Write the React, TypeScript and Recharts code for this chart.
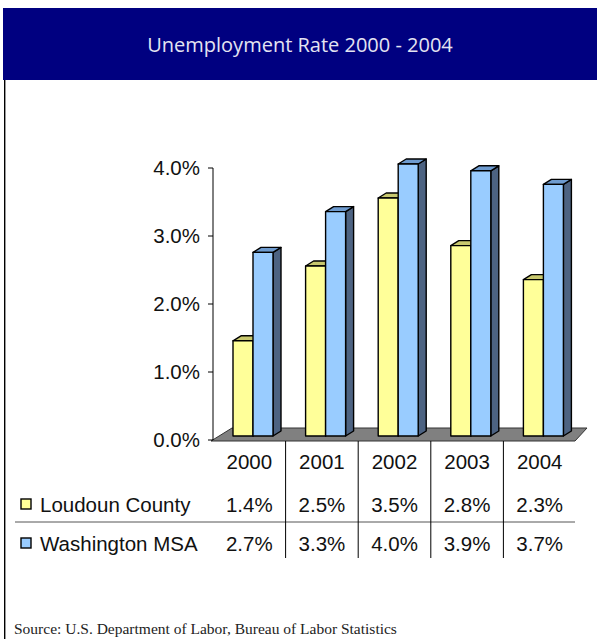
import React from 'react';
import { BarChart, Bar, XAxis, YAxis, Customized } from 'recharts';

const years = ['2000', '2001', '2002', '2003', '2004'];
const loudoun = [1.4, 2.5, 3.5, 2.8, 2.3];
const washington = [2.7, 3.3, 4.0, 3.9, 3.7];
const yTicks = [0, 1, 2, 3, 4];

const seriesNames = ['Loudoun County', 'Washington MSA'];

const data = years.map((year, i) => ({
  year,
  loudoun: loudoun[i],
  washington: washington[i],
}));

const CHART_W = 597;
const CHART_H = 490;
const MARGIN = { top: 88, right: 21, bottom: 10, left: 0 };
const Y_AXIS_W = 213;
const PLOT_BOTTOM = 360;
const FONT = '"Liberation Sans", Arial, sans-serif';
const FS = 20.5;

const DX = 8;
const DY = 5;

const makeBar3D = (front: string, top: string, side: string) => (props: any) => {
  const { x, y, width, height } = props;
  if (height == null || height <= 0) return null;
  const fx = x + 4;
  const fy = y - 4;
  const w = width;
  const h = height;
  return (
    <g stroke="#000" strokeWidth={1.4} strokeLinejoin="round">
      <polygon
        points={`${fx + w},${fy} ${fx + w + DX},${fy - DY} ${fx + w + DX},${fy + h - DY} ${fx + w},${fy + h}`}
        fill={side}
      />
      <polygon
        points={`${fx},${fy} ${fx + DX},${fy - DY} ${fx + w + DX},${fy - DY} ${fx + w},${fy}`}
        fill={top}
      />
      <rect x={fx} y={fy} width={w} height={h} fill={front} />
    </g>
  );
};

const LoudounBar = makeBar3D('#FFFF99', '#C8C86E', '#9E9E50');
const WashingtonBar = makeBar3D('#99CCFF', '#6E9BCF', '#4D6382');

const Floor = () => {
  const l = Y_AXIS_W;
  const r = CHART_W - MARGIN.right;
  const b = PLOT_BOTTOM;
  return (
    <polygon
      points={`${l - 2},${b + 1} ${l + 19},${b - 12} ${r + 11},${b - 12} ${r - 1},${b + 1}`}
      fill="#808080"
      stroke="#333"
      strokeWidth={1}
    />
  );
};

const TableTick = (props: any) => {
  const { x, payload, width, visibleTicksCount } = props;
  const i = payload.index;
  const band = (width || 363) / (visibleTicksCount || years.length);
  const textStyle = { fontFamily: FONT, fontSize: FS, fill: '#111' };
  return (
    <g>
      <text x={x} y={PLOT_BOTTOM + 21} textAnchor="middle" dominantBaseline="central" style={textStyle}>
        {years[i]}
      </text>
      <text x={x} y={PLOT_BOTTOM + 64} textAnchor="middle" dominantBaseline="central" style={textStyle}>
        {loudoun[i].toFixed(1)}%
      </text>
      <text x={x} y={PLOT_BOTTOM + 103} textAnchor="middle" dominantBaseline="central" style={textStyle}>
        {washington[i].toFixed(1)}%
      </text>
      {i > 0 && (
        <line
          x1={x - band / 2}
          x2={x - band / 2}
          y1={PLOT_BOTTOM + 1}
          y2={PLOT_BOTTOM + 118}
          stroke="#000"
          strokeWidth={1}
        />
      )}
      {i === 0 && (
        <g>
          <line x1={15} x2={CHART_W - MARGIN.right - 1} y1={PLOT_BOTTOM + 82} y2={PLOT_BOTTOM + 82} stroke="#555" strokeWidth={1} />
          <rect x={21} y={PLOT_BOTTOM + 59} width={10} height={10} fill="#FFFF99" stroke="#000" strokeWidth={1.4} />
          <text x={40} y={PLOT_BOTTOM + 64} dominantBaseline="central" style={textStyle}>
            {seriesNames[0]}
          </text>
          <rect x={21} y={PLOT_BOTTOM + 98} width={10} height={10} fill="#99CCFF" stroke="#000" strokeWidth={1.4} />
          <text x={40} y={PLOT_BOTTOM + 103} dominantBaseline="central" style={textStyle}>
            {seriesNames[1]}
          </text>
        </g>
      )}
    </g>
  );
};

export default function App() {
  return (
    <div style={{ position: 'absolute', left: 0, top: 0, width: 597, height: 639, background: '#fff', overflow: 'hidden' }}>
      <div
        style={{
          position: 'absolute',
          left: 3,
          top: 8,
          width: 594,
          height: 72,
          background: '#000080',
          color: '#e4e4f2',
          fontFamily: '"Open Sans", sans-serif',
          fontSize: 20,
          display: 'flex',
          alignItems: 'center',
          justifyContent: 'center',
        }}
      >
        Unemployment Rate 2000 - 2004
      </div>
      <div style={{ position: 'absolute', left: 4, top: 80, width: 1, height: 559, background: '#000' }} />
      <div style={{ position: 'absolute', left: 5, top: 80, width: 1, height: 559, background: '#999' }} />
      <div style={{ position: 'absolute', left: 0, top: 80 }}>
        <BarChart width={CHART_W} height={CHART_H} data={data} margin={MARGIN} barGap={0} barSize={20}>
          <Customized component={Floor} />
          <YAxis
            width={Y_AXIS_W}
            domain={[0, 4]}
            ticks={yTicks}
            tickFormatter={(v: number) => `${v.toFixed(1)}%`}
            axisLine={{ stroke: '#000', strokeWidth: 1 }}
            tickLine={{ stroke: '#000', strokeWidth: 1 }}
            tickSize={5}
            tickMargin={8}
            tick={{ fontFamily: FONT, fontSize: FS, fill: '#111' }}
            interval={0}
          />
          <XAxis dataKey="year" axisLine={false} tickLine={false} height={120} tick={<TableTick />} interval={0} />
          <Bar dataKey="loudoun" shape={<LoudounBar />} isAnimationActive={false} />
          <Bar dataKey="washington" shape={<WashingtonBar />} isAnimationActive={false} />
        </BarChart>
      </div>
      <div
        style={{
          position: 'absolute',
          left: 14,
          top: 620,
          fontFamily: '"Liberation Serif", serif',
          fontSize: 15.5,
          color: '#222',
          whiteSpace: 'nowrap',
        }}
      >
        Source: U.S. Department of Labor, Bureau of Labor Statistics
      </div>
    </div>
  );
}
